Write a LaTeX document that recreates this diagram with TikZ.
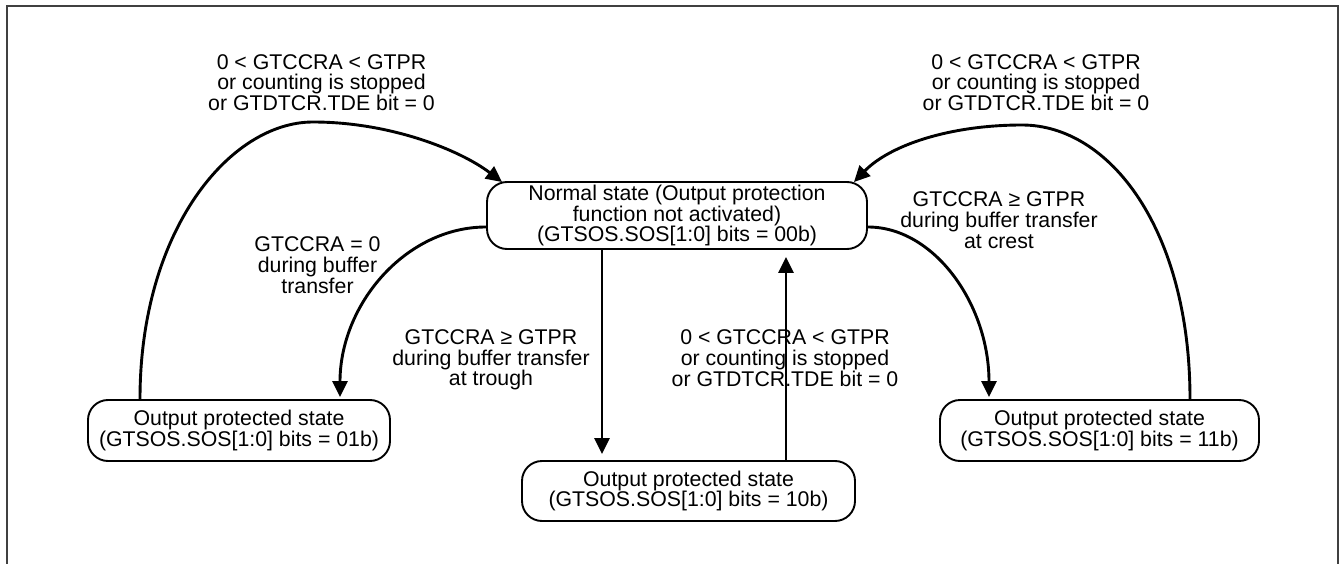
\documentclass[tikz,border=0pt]{standalone}
\usepackage{fontspec}
\setmainfont{Liberation Sans}
\usetikzlibrary{arrows.meta,calc}
\begin{document}
\begin{tikzpicture}[x=1pt,y=-1pt,
  every node/.style={font=\fontsize{21.3}{20.7}\selectfont},
  state/.style={draw, rounded corners=20pt, line width=1.9pt, align=center, inner sep=0pt},
  lbl/.style={align=center, inner sep=0pt},
  edge/.style={line width=2.9pt, -{Triangle[width=15pt,length=16pt]}},
  frame/.style={line width=2pt, black!75}]
\useasboundingbox (0,0) rectangle (1341,564);
\draw[frame] (7,564) -- (7,6) -- (1338,6) -- (1338,564);

\node[state, minimum width=380pt, minimum height=67pt] (n0) at (677,215.5)
  {Normal state (Output protection\\function not activated)\\(GTSOS.SOS[1:0] bits = 00b)};
\node[state, minimum width=302pt, minimum height=61pt] (n1) at (239,430.5)
  {Output protected state\\(GTSOS.SOS[1:0] bits = 01b)};
\node[state, minimum width=333pt, minimum height=60pt] (n2) at (688.5,491)
  {Output protected state\\(GTSOS.SOS[1:0] bits = 10b)};
\node[state, minimum width=319pt, minimum height=61pt] (n3) at (1099.5,430.5)
  {Output protected state\\(GTSOS.SOS[1:0] bits = 11b)};

\node[lbl] (l1) at (321.5,82.6) {0 < GTCCRA < GTPR\\or counting is stopped\\or GTDTCR.TDE bit = 0};
\node[lbl] (l2) at (1036,82.6) {0 < GTCCRA < GTPR\\or counting is stopped\\or GTDTCR.TDE bit = 0};
\node[lbl] (l3) at (317.5,265) {GTCCRA = 0\\during buffer\\transfer};
\node[lbl] (l4) at (491,360) {GTCCRA ≥ GTPR\\during buffer transfer\\at trough};
\node[lbl] (l6) at (999,220) {GTCCRA ≥ GTPR\\during buffer transfer\\at crest};

\draw[edge] ($(n0.south)+(-75,0)$) -- ($(n2.north)+(-86.5,-6)$);
\draw[edge] ($(n2.north)+(97.5,0)$) -- ($(n0.south)+(109,7)$);
\node[lbl] (l5) at (785,358) {0 < GTCCRA < GTPR\\or counting is stopped\\or GTDTCR.TDE bit = 0};

\draw[edge] ($(n1.north)+(-99,0)$) .. controls (140,230) and (230,122) .. (313,122)
  .. controls (390,122) and (460,150) .. ($(n0.north west)+(16,1)$);
\draw[edge] ($(n0.west)+(0,11.5)$) .. controls (406,227) and (340,304) .. ($(n1.north)+(101,-2)$);
\draw[edge] ($(n0.east)+(0,11.5)$) .. controls (934,227) and (989,304) .. ($(n3.north)+(-110.5,-2)$);
\draw[edge] ($(n3.north)+(90.5,0)$) .. controls (1190,230) and (1110,125) .. (1022,125)
  .. controls (950,125) and (890,145) .. ($(n0.north east)+(-14,1)$);
\end{tikzpicture}
\end{document}
